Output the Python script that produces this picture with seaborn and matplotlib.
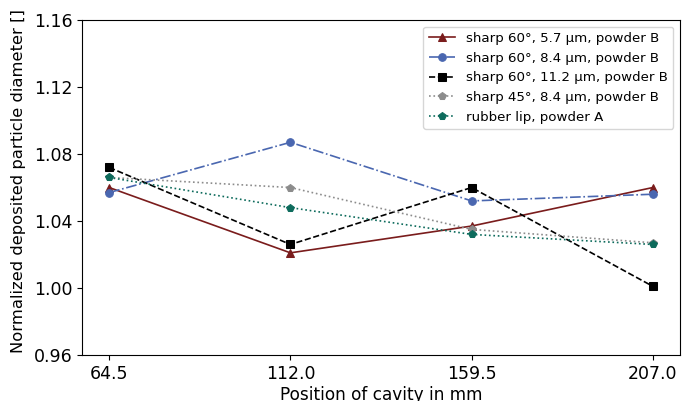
import matplotlib
matplotlib.use("Agg")
import matplotlib.pyplot as plt
import seaborn as sns
import pandas as pd

positions = [64.5, 112.0, 159.5, 207.0]
labels = ["sharp 60°, 5.7 µm, powder B",
          "sharp 60°, 8.4 µm, powder B",
          "sharp 60°, 11.2 µm, powder B",
          "sharp 45°, 8.4 µm, powder B",
          "rubber lip, powder A"]
red_vals = [1.060, 1.021, 1.037, 1.060]
blue_vals = [1.057, 1.087, 1.052, 1.056]
black_vals = [1.072, 1.026, 1.060, 1.001]
gray_vals = [1.066, 1.060, 1.035, 1.027]
teal_vals = [1.066, 1.048, 1.032, 1.026]
series = [red_vals, blue_vals, black_vals, gray_vals, teal_vals]

colors = ["#7a1c1c", "#4a67b0", "#000000", "#8c8c8c", "#0d6b5c"]
markers = ["^", "o", "s", "p", "p"]
linestyles = ["-", "-.", "--", ":", ":"]

fig = plt.figure(figsize=(6.92, 4.01), dpi=100)
ax = fig.add_axes([0.1185, 0.1147, 0.8642, 0.8353])

for lab, vals, c, m, ls in zip(labels, series, colors, markers, linestyles):
    df = pd.DataFrame({"x": positions, "y": vals})
    sns.lineplot(data=df, x="x", y="y", ax=ax, color=c, marker=m, linestyle=ls,
                 markersize=5.5, markeredgecolor=c, linewidth=1.2, label=lab)

ax.set_ylim(0.96, 1.16)
ax.set_yticks([0.96, 1.00, 1.04, 1.08, 1.12, 1.16])
ax.set_yticklabels(["0.96", "1.00", "1.04", "1.08", "1.12", "1.16"])
ax.set_xticks(positions)
ax.set_xticklabels(["64.5", "112.0", "159.5", "207.0"])
ax.tick_params(labelsize=12.5)
ax.set_xlabel("Position of cavity in mm", fontsize=12.2, labelpad=2)
ax.set_ylabel("Normalized deposited particle diameter []", fontsize=11.8)
ax.yaxis.set_label_coords(-0.094, 0.52)
ax.legend(loc="upper right", fontsize=9.6)
fig.savefig("out.png", dpi=100)
